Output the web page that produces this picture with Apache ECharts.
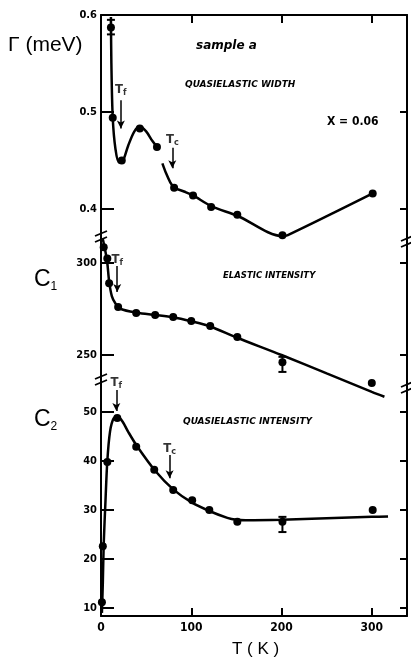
<!DOCTYPE html>
<html>
<head>
<meta charset="utf-8">
<script src="https://cdn.jsdelivr.net/npm/echarts@6/dist/echarts.min.js"></script>
<style>
  html, body { margin: 0; padding: 0; background: #fff; }
  #chart { width: 411px; height: 658px; }
</style>
</head>
<body>
<div id="chart"></div>
<script>
// --- quasielastic width Gamma (meV) ---
const tWidth = [11, 13, 23, 43, 62, 81, 102, 122, 151, 201, 301];
const gammaWidth = [0.587, 0.494, 0.450, 0.483, 0.464, 0.422, 0.414, 0.402, 0.394, 0.373, 0.416];
const fitWidthT = [11, 11.5, 13, 16, 20, 24, 30, 37, 43, 50, 57, 62, 65, 68, 72, 77, 81, 92, 102, 122, 151, 201, 207, 301];
const fitWidth = [0.598, 0.55, 0.494, 0.462, 0.448, 0.449, 0.465, 0.480, 0.485, 0.480, 0.470, 0.464, null, 0.447, 0.437, 0.427, 0.422, 0.418, 0.414, 0.403, 0.393, 0.372, 0.373, 0.416];
const errWidth = [[11, 0.580, 0.595]];
const ticksWidth = [0.4, 0.5, 0.6];

// --- elastic intensity C1 ---
const tElastic = [3, 7, 9, 19, 39, 60, 80, 100, 121, 151, 201, 300];
const c1 = [308.5, 302.5, 289, 276.1, 272.8, 271.7, 270.7, 268.5, 265.8, 259.8, 246, 234.8];
const fitElasticT = [2, 5, 7, 9, 12, 16, 22, 40, 60, 80, 100, 121, 150, 200, 250, 300, 314];
const fitElastic = [313, 306, 300, 290, 282, 278, 275, 273, 271.8, 270.5, 268.3, 265.5, 259.5, 250, 240, 230, 227.3];
const errElastic = [[201, 240.8, 249]];
const ticksElastic = [250, 300];

// --- quasielastic intensity C2 ---
const tQuasi = [1, 2, 7, 18, 39, 59, 80, 101, 120, 151, 201, 301];
const c2 = [11.2, 22.6, 39.8, 48.8, 42.9, 38.2, 34.1, 32.0, 30.0, 27.6, 27.6, 30.0];
const fitQuasiT = [1, 2, 3, 5, 7, 10, 14, 19, 24, 30, 40, 60, 80, 100, 120, 140, 150, 160, 200, 250, 300, 318];
const fitQuasi = [9, 15, 23, 32, 40, 46, 48.7, 49, 48, 46, 43, 38, 34.2, 31.6, 29.8, 28.4, 28, 27.9, 28, 28.3, 28.6, 28.7];
const errQuasi = [[201, 25.5, 28.6]];
const ticksQuasi = [10, 20, 30, 40, 50];

const tTicks = [0, 100, 200, 300];

// annotations: [subscript, T, textY, arrowFromY, arrowToY]
const notesWidth = [['f', 22, 0.523, 0.512, 0.483], ['c', 79, 0.471, 0.463, 0.442]];
const notesElastic = [['f', 18, 301.6, 298.4, 284.2]];
const notesQuasi = [['f', 17, 55.9, 54.5, 50.2], ['c', 76, 42.6, 41.2, 36.5]];

const chart = echarts.init(document.getElementById('chart'));

const zip = (xs, ys) => xs.map((x, i) => [x, ys[i]]);
const black = '#000';
const labelFont = { fontFamily: 'DejaVu Sans Condensed', fontWeight: 'bold', fontSize: 11, color: black };

const grids = [
  { left: 101, width: 306, top: 15, height: 222 },
  { left: 101, width: 306, top: 237, height: 163 },
  { left: 101, width: 306, top: 380, height: 236 }
];
const yRanges = [[0.3711, 0.6], [225.54, 314.13], [8.37, 56.53]];
const yTicks = [ticksWidth, ticksElastic, ticksQuasi];

const xAxes = grids.map((g, i) => ({
  type: 'value', gridIndex: i, min: 0, max: 339,
  position: i === 0 ? 'top' : 'bottom',
  show: i !== 1,
  axisLine: { show: true, lineStyle: { color: black, width: 2 } },
  axisTick: { show: true, inside: true, length: 8, lineStyle: { color: black, width: 2 }, customValues: [100, 200, 300] },
  axisLabel: { show: i === 2, customValues: tTicks, margin: 6, ...labelFont, fontSize: 12 },
  splitLine: { show: false }
}));

const yAxes = [];
yRanges.forEach((r, i) => {
  yAxes.push({
    type: 'value', gridIndex: i, min: r[0], max: r[1], position: 'left',
    axisLine: { show: true, lineStyle: { color: black, width: 2 } },
    axisTick: { show: true, inside: true, length: 13, lineStyle: { color: black, width: 2 }, customValues: yTicks[i] },
    axisLabel: { customValues: yTicks[i], margin: 4, ...labelFont,
      formatter: v => i === 0 ? v.toFixed(1) : String(v) },
    splitLine: { show: false }
  });
});
yRanges.forEach((r, i) => {
  yAxes.push({
    type: 'value', gridIndex: i, min: r[0], max: r[1], position: 'right',
    axisLine: { show: true, lineStyle: { color: black, width: 2 } },
    axisTick: { show: true, inside: true, length: 7, lineStyle: { color: black, width: 2 }, customValues: yTicks[i] },
    axisLabel: { show: false },
    splitLine: { show: false }
  });
});

function panelSeries(i, ts, vs, fitT, fitV, errs, notes) {
  return [
    {
      type: 'line', xAxisIndex: i, yAxisIndex: i,
      data: zip(fitT, fitV), showSymbol: false, smooth: 0.3, connectNulls: false,
      lineStyle: { color: black, width: 2.5 }, silent: true
    },
    {
      type: 'scatter', xAxisIndex: i, yAxisIndex: i,
      data: zip(ts, vs), symbol: 'circle', symbolSize: 8,
      itemStyle: { color: black, opacity: 1 }
    },
    {
      type: 'custom', xAxisIndex: i, yAxisIndex: i, data: errs,
      renderItem: (params, api) => {
        const lo = api.coord([api.value(0), api.value(1)]);
        const hi = api.coord([api.value(0), api.value(2)]);
        const st = { stroke: black, lineWidth: 2 };
        return { type: 'group', children: [
          { type: 'line', shape: { x1: lo[0], y1: lo[1], x2: hi[0], y2: hi[1] }, style: st },
          { type: 'line', shape: { x1: lo[0] - 4, y1: lo[1], x2: lo[0] + 4, y2: lo[1] }, style: st },
          { type: 'line', shape: { x1: hi[0] - 4, y1: hi[1], x2: hi[0] + 4, y2: hi[1] }, style: st }
        ] };
      }
    },
    {
      type: 'scatter', xAxisIndex: i, yAxisIndex: i, symbolSize: 0,
      data: notes.map(n => ({ value: [n[1], n[2]], sub: n[0] })),
      label: {
        show: true, position: 'inside',
        formatter: p => '{t|T}{s|' + p.data.sub + '}',
        rich: {
          t: { fontFamily: 'DejaVu Sans Condensed', fontWeight: 'bold', fontSize: 13, color: black },
          s: { fontFamily: 'DejaVu Sans Condensed', fontWeight: 'bold', fontSize: 9, color: black, padding: [6, 0, 0, 0] }
        }
      },
      markLine: {
        silent: true, symbol: ['none', 'arrow'], symbolSize: [6, 8],
        label: { show: false },
        lineStyle: { color: black, width: 1.5, type: 'solid' },
        data: notes.map(n => [{ coord: [n[1], n[3]] }, { coord: [n[1], n[4]] }])
      }
    }
  ];
}

function breakMark(x, y) {
  const st = { stroke: black, lineWidth: 1.8 };
  return { type: 'group', children: [
    { type: 'rect', shape: { x: x - 2, y: y - 4, width: 4, height: 8 }, style: { fill: '#fff' } },
    { type: 'line', shape: { x1: x - 6, y1: y - 1, x2: x + 6, y2: y - 6 }, style: st },
    { type: 'line', shape: { x1: x - 6, y1: y + 5, x2: x + 6, y2: y } , style: st }
  ] };
}

const capsFont = { fontFamily: 'DejaVu Sans', fontWeight: 'bold', fontStyle: 'italic', fill: black };

chart.setOption({
  animation: false,
  backgroundColor: '#fff',
  grid: grids,
  xAxis: xAxes,
  yAxis: yAxes,
  series: [
    ...panelSeries(0, tWidth, gammaWidth, fitWidthT, fitWidth, errWidth, notesWidth),
    ...panelSeries(1, tElastic, c1, fitElasticT, fitElastic, errElastic, notesElastic),
    ...panelSeries(2, tQuasi, c2, fitQuasiT, fitQuasi, errQuasi, notesQuasi)
  ],
  graphic: [
    breakMark(101, 237), breakMark(101, 380), breakMark(407, 242), breakMark(407, 388),
    { type: 'text', left: 8, top: 35, style: { text: 'Γ (meV)', font: '21px "Liberation Sans"', fill: black } },
    { type: 'text', left: 34, top: 268, style: { text: '{c|C}{s|1}', rich: {
      c: { fontFamily: 'Liberation Sans', fontSize: 23, color: black },
      s: { fontFamily: 'Liberation Sans', fontSize: 12, color: black, padding: [14, 0, 0, 0] } } } },
    { type: 'text', left: 34, top: 408, style: { text: '{c|C}{s|2}', rich: {
      c: { fontFamily: 'Liberation Sans', fontSize: 23, color: black },
      s: { fontFamily: 'Liberation Sans', fontSize: 12, color: black, padding: [14, 0, 0, 0] } } } },
    { type: 'text', left: 196, top: 40, style: { text: 'sample a', ...capsFont, fontSize: 12 } },
    { type: 'text', left: 185, top: 80, style: { text: 'QUASIELASTIC WIDTH', ...capsFont, fontSize: 9 } },
    { type: 'text', left: 327, top: 116, style: { text: 'X = 0.06', fontFamily: 'DejaVu Sans Condensed', fontWeight: 'bold', fontSize: 12, fill: black } },
    { type: 'text', left: 223, top: 271, style: { text: 'ELASTIC INTENSITY', ...capsFont, fontSize: 8.5 } },
    { type: 'text', left: 183, top: 417, style: { text: 'QUASIELASTIC INTENSITY', ...capsFont, fontSize: 9 } },
    { type: 'text', left: 232, top: 641, style: { text: 'T ( K )', font: '17px "Liberation Sans"', fill: black } }
  ]
});

window.addEventListener('resize', function () {
  chart.resize();
});
</script>
</body>
</html>
